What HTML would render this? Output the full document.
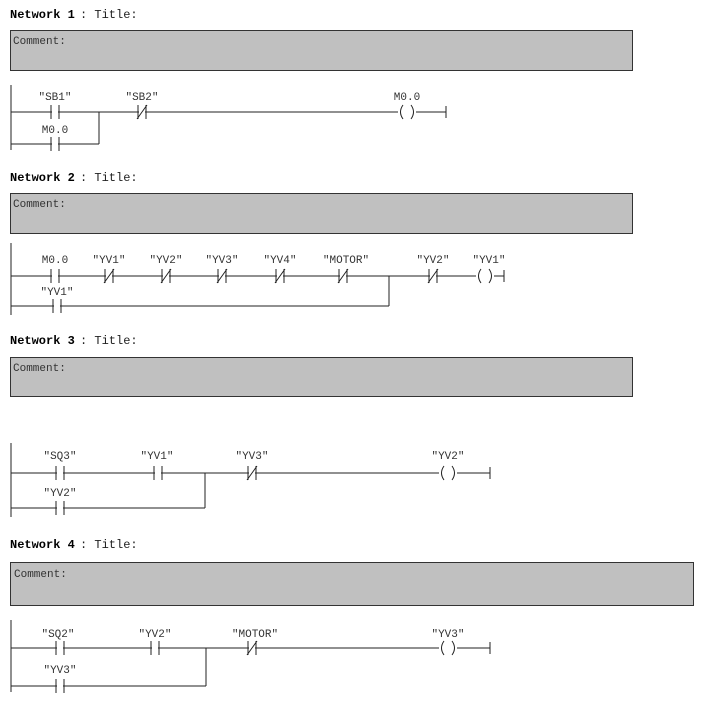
<!DOCTYPE html>
<html><head><meta charset="utf-8"><style>
body{margin:0;background:#fff;width:716px;height:706px;overflow:hidden}
svg{display:block}
text{font-family:"Liberation Mono",monospace;font-size:11px;fill:#333}
.h{font-weight:bold;font-size:12px;fill:#000}
.t{font-size:12px;fill:#222}
line,path{stroke:#222;stroke-width:1;fill:none}
</style></head><body>
<svg width="716" height="706" viewBox="0 0 716 706">
<defs>
<g id="no"><rect x="-3" y="-8" width="6" height="16" fill="#fff"/><line x1="-4" y1="-7" x2="-4" y2="7"/><line x1="4" y1="-7" x2="4" y2="7"/></g>
<g id="nc"><use href="#no"/><line x1="-5" y1="7" x2="5" y2="-7"/></g>
<g id="coil"><rect x="-9" y="-8" width="18" height="16" fill="#fff"/><path d="M-4,-7 Q-9,0 -4,7"/><path d="M4,-7 Q9,0 4,7"/></g>
</defs>

<!-- Network 1 -->
<text x="10" y="18" class="h">Network 1</text><text x="80" y="18" class="t">: Title:</text>
<rect x="10.5" y="30.5" width="622" height="40" fill="#c0c0c0" stroke="#333"/>
<text x="13" y="44">Comment:</text>
<line x1="11" y1="85" x2="11" y2="150"/>
<line x1="11" y1="112" x2="446" y2="112"/>
<line x1="11" y1="144" x2="99" y2="144"/><line x1="99" y1="112" x2="99" y2="144"/>
<line x1="446" y1="106" x2="446" y2="118"/>
<use href="#no" x="55" y="112"/><use href="#no" x="55" y="144"/>
<use href="#nc" x="142" y="112"/><use href="#coil" x="407" y="112"/>
<text x="55" y="100" text-anchor="middle">"SB1"</text>
<text x="55" y="133" text-anchor="middle">M0.0</text>
<text x="142" y="100" text-anchor="middle">"SB2"</text>
<text x="407" y="100" text-anchor="middle">M0.0</text>

<!-- Network 2 -->
<text x="10" y="181" class="h">Network 2</text><text x="80" y="181" class="t">: Title:</text>
<rect x="10.5" y="193.5" width="622" height="40" fill="#c0c0c0" stroke="#333"/>
<text x="13" y="207">Comment:</text>
<line x1="11" y1="243" x2="11" y2="315"/>
<line x1="11" y1="276" x2="504" y2="276"/>
<line x1="11" y1="306" x2="389" y2="306"/><line x1="389" y1="276" x2="389" y2="306"/>
<line x1="504" y1="270" x2="504" y2="282"/>
<use href="#no" x="55" y="276"/><use href="#no" x="57" y="306"/>
<use href="#nc" x="109" y="276"/><use href="#nc" x="166" y="276"/><use href="#nc" x="222" y="276"/>
<use href="#nc" x="280" y="276"/><use href="#nc" x="343" y="276"/><use href="#nc" x="433" y="276"/>
<use href="#coil" x="485" y="276"/>
<text x="55" y="263" text-anchor="middle">M0.0</text>
<text x="109" y="263" text-anchor="middle">"YV1"</text>
<text x="166" y="263" text-anchor="middle">"YV2"</text>
<text x="222" y="263" text-anchor="middle">"YV3"</text>
<text x="280" y="263" text-anchor="middle">"YV4"</text>
<text x="346" y="263" text-anchor="middle">"MOTOR"</text>
<text x="433" y="263" text-anchor="middle">"YV2"</text>
<text x="489" y="263" text-anchor="middle">"YV1"</text>
<text x="57" y="295" text-anchor="middle">"YV1"</text>

<!-- Network 3 -->
<text x="10" y="344" class="h">Network 3</text><text x="80" y="344" class="t">: Title:</text>
<rect x="10.5" y="357.5" width="622" height="39" fill="#c0c0c0" stroke="#333"/>
<text x="13" y="371">Comment:</text>
<line x1="11" y1="443" x2="11" y2="517"/>
<line x1="11" y1="473" x2="490" y2="473"/>
<line x1="11" y1="508" x2="205" y2="508"/><line x1="205" y1="473" x2="205" y2="508"/>
<line x1="490" y1="467" x2="490" y2="479"/>
<use href="#no" x="60" y="473"/><use href="#no" x="60" y="508"/>
<use href="#no" x="158" y="473"/><use href="#nc" x="252" y="473"/>
<use href="#coil" x="448" y="473"/>
<text x="60" y="459" text-anchor="middle">"SQ3"</text>
<text x="157" y="459" text-anchor="middle">"YV1"</text>
<text x="252" y="459" text-anchor="middle">"YV3"</text>
<text x="448" y="459" text-anchor="middle">"YV2"</text>
<text x="60" y="496" text-anchor="middle">"YV2"</text>

<!-- Network 4 -->
<text x="10" y="548" class="h">Network 4</text><text x="80" y="548" class="t">: Title:</text>
<rect x="10.5" y="562.5" width="683" height="43" fill="#c0c0c0" stroke="#333"/>
<text x="14" y="577">Comment:</text>
<line x1="11" y1="620" x2="11" y2="692"/>
<line x1="11" y1="648" x2="490" y2="648"/>
<line x1="11" y1="686" x2="206" y2="686"/><line x1="206" y1="648" x2="206" y2="686"/>
<line x1="490" y1="642" x2="490" y2="654"/>
<use href="#no" x="60" y="648"/><use href="#no" x="60" y="686"/>
<use href="#no" x="155" y="648"/><use href="#nc" x="252" y="648"/>
<use href="#coil" x="448" y="648"/>
<text x="58" y="637" text-anchor="middle">"SQ2"</text>
<text x="155" y="637" text-anchor="middle">"YV2"</text>
<text x="255" y="637" text-anchor="middle">"MOTOR"</text>
<text x="448" y="637" text-anchor="middle">"YV3"</text>
<text x="60" y="673" text-anchor="middle">"YV3"</text>
</svg>
</body></html>
